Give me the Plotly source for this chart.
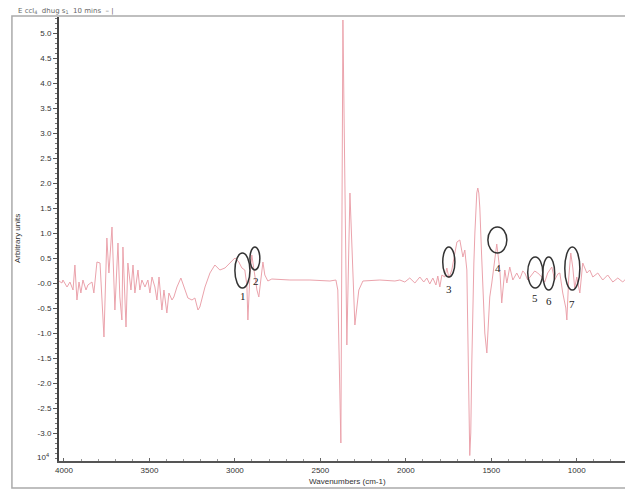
import plotly.graph_objects as go

# Spectrum (wavenumber cm-1, arbitrary units)
wavenumber = [4029, 4012, 4006, 3982, 3965, 3947, 3936, 3924, 3912, 3901, 3889, 3871, 3860, 3836, 3825,
              3807, 3789, 3778, 3766, 3749, 3737, 3719, 3702, 3684, 3673, 3661, 3655, 3637, 3626, 3608,
              3596, 3585, 3567, 3556, 3544, 3526, 3509, 3497, 3485, 3468, 3456, 3444, 3427, 3415, 3398,
              3386, 3368, 3357, 3339, 3316, 3292, 3275, 3251, 3234, 3216, 3205, 3175, 3146, 3117, 3088,
              3058, 3029, 3000, 2977, 2959, 2942, 2930, 2924, 2912, 2901, 2883, 2871, 2860, 2848, 2836,
              2825, 2807, 2784, 2678, 2561, 2444, 2409, 2398, 2380, 2368, 2345, 2327, 2298, 2275, 2251,
              2152, 2064, 2035, 2006, 1977, 1947, 1918, 1895, 1877, 1860, 1842, 1824, 1813, 1801, 1789,
              1772, 1760, 1748, 1731, 1713, 1701, 1684, 1666, 1655, 1643, 1626, 1620, 1614, 1608, 1602,
              1596, 1591, 1585, 1579, 1573, 1567, 1561, 1556, 1544, 1538, 1526, 1520, 1509, 1497, 1485,
              1468, 1450, 1439, 1421, 1409, 1392, 1374, 1351, 1333, 1316, 1304, 1287, 1263, 1246, 1228,
              1205, 1187, 1170, 1146, 1129, 1111, 1099, 1082, 1064, 1058, 1047, 1035, 1023, 1012, 1000,
              982, 965, 941, 924, 906, 877, 848, 819, 789, 760, 731, 702, 673]
intensity = [0.04, 0.00, 0.06, -0.08, 0.02, -0.14, 0.36, -0.34, 0.02, -0.20, 0.06, -0.14, -0.04, 0.02, -0.20,
             0.42, 0.40, -0.28, -1.08, 0.90, 0.20, 1.12, -0.54, 0.80, -0.28, -0.74, 0.72, -0.88, 0.40, -0.14,
             0.36, -0.20, 0.26, -0.14, 0.06, -0.08, 0.06, -0.20, 0.12, -0.08, -0.34, 0.12, -0.54, -0.14, -0.60,
             -0.20, -0.34, -0.28, -0.08, 0.10, -0.14, -0.30, -0.34, -0.30, -0.54, -0.48, -0.08, 0.20, 0.36, 0.26,
             0.30, 0.40, 0.50, 0.42, 0.30, 0.26, -0.04, -0.74, 0.16, 0.56, 0.16, -0.14, -0.28, 0.06, 0.42,
             0.16, 0.04, 0.08, 0.06, 0.06, 0.04, 0.06, -0.14, -3.20, 5.26, -1.24, 1.80, -0.84, -0.14, 0.04,
             0.06, 0.04, 0.06, 0.02, 0.10, 0.00, 0.12, 0.02, 0.10, -0.02, 0.10, -0.04, 0.14, -0.08, 0.16,
             0.12, 0.30, 0.10, 0.26, 0.60, 0.82, 0.86, 0.52, 0.66, 0.26, -3.45, -3.00, -1.60, -0.40, 0.40,
             1.00, 1.50, 1.80, 1.90, 1.80, 1.50, 1.10, 0.50, -0.50, -1.00, -1.40, -0.90, -0.28, 0.00, 0.32,
             0.78, 0.26, -0.40, 0.26, 0.00, 0.32, 0.06, 0.20, 0.08, 0.24, 0.20, 0.06, 0.16, 0.24, 0.20,
             0.12, 0.02, 0.20, 0.32, 0.06, 0.18, 0.20, -0.20, -0.50, -0.74, 0.10, 0.60, 0.30, -0.10, 0.12,
             -0.20, 0.40, 0.20, 0.26, 0.12, 0.20, 0.06, 0.16, 0.02, 0.10, 0.02, 0.12, 0.00]

y_ticks = [-3.0, -2.5, -2.0, -1.5, -1.0, -0.5, 0.0, 0.5, 1.0, 1.5, 2.0, 2.5, 3.0, 3.5, 4.0, 4.5, 5.0]
y_ticktext = ["-3.0", "-2.5", "-2.0", "-1.5", "-1.0", "-0.5", "-0.0", "0.5", "1.0", "1.5", "2.0",
              "2.5", "3.0", "3.5", "4.0", "4.5", "5.0"]
x_ticks = [4000, 3500, 3000, 2500, 2000, 1500, 1000]

# Circled bands: label, x-extent (cm-1), y-extent, label position
band_labels = ["1", "2", "3", "4", "5", "6", "7"]
band_x0 = [3000, 2912, 1784, 1520, 1287, 1199, 1070]
band_x1 = [2912, 2854, 1713, 1409, 1199, 1129, 982]
band_y0 = [-0.10, 0.26, 0.12, 0.60, -0.10, -0.14, -0.14]
band_y1 = [0.60, 0.72, 0.72, 1.12, 0.52, 0.52, 0.72]
label_x = [2953, 2877, 1749, 1462, 1246, 1164, 1029]
label_y = [-0.26, 0.04, -0.12, 0.30, -0.30, -0.36, -0.42]

fig = go.Figure()
fig.add_trace(go.Scatter(x=wavenumber, y=intensity, mode="lines",
                         line=dict(color="#eba3ac", width=1), showlegend=False,
                         hoverinfo="skip"))

shapes = []
for x0, x1, y0, y1 in zip(band_x0, band_x1, band_y0, band_y1):
    shapes.append(dict(type="circle", xref="x", yref="y", x0=x0, x1=x1, y0=y0, y1=y1,
                       line=dict(color="#333333", width=1.5)))
# scan frame
shapes.append(dict(type="rect", xref="paper", yref="paper", x0=-0.082, x1=1.02, y0=-0.061, y1=1.002,
                   line=dict(color="#aaaaaa", width=1.5), layer="below"))

annotations = []
for t, x, y in zip(band_labels, label_x, label_y):
    annotations.append(dict(x=x, y=y, xref="x", yref="y", text=t, showarrow=False,
                            xanchor="center", yanchor="middle",
                            font=dict(family="Liberation Serif", size=11, color="#222222")))
annotations.append(dict(x=-0.073, y=0.5, xref="paper", yref="paper", text="Arbitrary units",
                        textangle=-90, showarrow=False, xanchor="center", yanchor="middle",
                        font=dict(family="Liberation Sans", size=8, color="#333333")))
annotations.append(dict(x=0.503, y=-0.047, xref="paper", yref="paper", text="Wavenumbers (cm-1)",
                        showarrow=False, xanchor="center", yanchor="middle",
                        font=dict(family="Liberation Sans", size=8, color="#333333")))
annotations.append(dict(x=-0.028, y=0.009, xref="paper", yref="paper", text="10<sup>4</sup>",
                        showarrow=False, xanchor="center", yanchor="middle",
                        font=dict(family="Liberation Sans", size=8, color="#333333")))
annotations.append(dict(x=-0.075, y=1.0125, xref="paper", yref="paper",
                        text="E ccl<sub>4</sub>  dhug s<sub>1</sub>  10 mins  \u2013 |",
                        showarrow=False, xanchor="left", yanchor="middle",
                        font=dict(family="DejaVu Sans", size=7, color="#666666")))

fig.update_layout(
    width=625, height=482,
    margin=dict(l=51, r=0, t=9, b=29),
    paper_bgcolor="white", plot_bgcolor="white",
    shapes=shapes, annotations=annotations,
    xaxis=dict(range=[4029, 671], tickmode="array", tickvals=x_ticks,
               ticks="inside", ticklen=3, tickcolor="#666666",
               showline=True, linecolor="#555555", linewidth=2,
               showgrid=False, zeroline=False,
               tickfont=dict(family="Liberation Sans", size=8, color="#333333"),
               minor=dict(tickmode="linear", tick0=0, dtick=100, ticks="inside", ticklen=2,
                          tickcolor="#999999")),
    yaxis=dict(range=[-3.56, 5.32], tickmode="array", tickvals=y_ticks, ticktext=y_ticktext,
               ticks="outside", ticklen=4, tickcolor="#555555",
               showline=True, linecolor="#444444", linewidth=2,
               showgrid=False, zeroline=False,
               tickfont=dict(family="Liberation Sans", size=8, color="#333333"),
               minor=dict(tickmode="linear", tick0=0, dtick=0.1, ticks="outside", ticklen=2,
                          tickcolor="#777777")),
)

fig.write_html("out.html")
